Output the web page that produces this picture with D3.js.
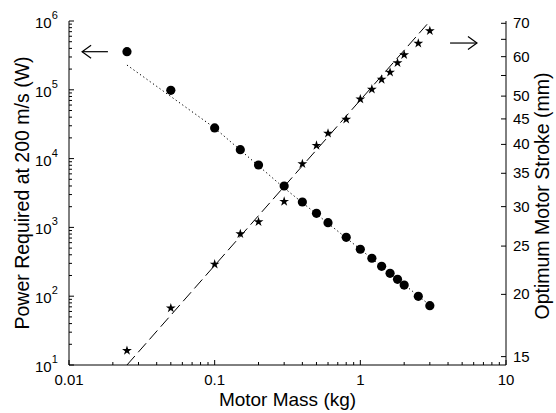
<!DOCTYPE html>
<html><head><meta charset="utf-8">
<script src="https://cdn.jsdelivr.net/npm/d3@7"></script>
<style>body{margin:0;background:#fff} svg text{font-family:"Liberation Sans",Arial,Helvetica,sans-serif;fill:#000}</style>
</head><body><svg id="c" width="556" height="413"></svg>
<script>
// ---- data ----
const mass   = [0.025, 0.05, 0.1, 0.15, 0.2, 0.3, 0.4, 0.5, 0.6, 0.8, 1.0, 1.2, 1.4, 1.6, 1.8, 2.0, 2.5, 3.0];
const power  = [358000, 98400, 27900, 13500, 8070, 4000, 2340, 1600, 1170, 718, 481, 356, 272, 215, 176, 145, 99.7, 72.8];
const stroke = [15.42, 18.77, 22.99, 26.46, 27.97, 30.72, 36.56, 39.8, 42.1, 44.9, 49.3, 51.6, 54.0, 55.8, 58.3, 60.5, 63.8, 67.6];
const powerFitMass  = [0.025, 0.1, 0.3, 1, 3];
const powerFitValue = [229000, 27900, 3740, 480, 74];
const strokeFitMass  = [0.025, 3];
const strokeFitValue = [14.43, 70.7];
const xTicks = [0.01, 0.1, 1, 10];
const xTickLabels = ["0.01", "0.1", "1", "10"];
const yLeftExponents = [1, 2, 3, 4, 5, 6];
const yRightTicks  = [15, 20, 25, 30, 35, 40, 45, 50, 55, 60, 65, 70];
const yRightLabels = ["15", "20", "25", "30", "35", "40", "45", "50", "", "60", "", "70"];
const xTitle = "Motor Mass (kg)";
const yLeftTitle = "Power Required at 200 m/s (W)";
const yRightTitle = "Optimum Motor Stroke (mm)";

// ---- layout ----
const W = 556, H = 413;
const m = {top: 21, left: 69, right: 50, bottom: 48};
const iw = W - m.left - m.right, ih = H - m.top - m.bottom;
const svg = d3.select("#c");
const g = svg.append("g").attr("transform", `translate(${m.left},${m.top})`);

const x = d3.scaleLog().domain([0.01, 10]).range([0, iw]);
const yL = d3.scaleLog().domain([10, 1e6]).range([ih, 0]);
const yR = d3.scaleLog().domain([14.43, 70.75]).range([ih, 0]);

// ---- axes lines ----
const ax = g.append("g").attr("stroke", "#000").attr("stroke-width", 1).attr("fill", "none");
ax.append("line").attr("x1", 0).attr("x2", 0).attr("y1", 0).attr("y2", ih);
ax.append("line").attr("x1", iw).attr("x2", iw).attr("y1", 0).attr("y2", ih);
ax.append("line").attr("x1", 0).attr("x2", iw).attr("y1", ih).attr("y2", ih);

// bottom ticks
const xMinor = [];
for (let d = 0.01; d < 10; d *= 10) for (let k = 2; k <= 9; k++) xMinor.push(+(d * k).toPrecision(3));
ax.selectAll(".xmaj").data(xTicks).enter().append("line")
  .attr("x1", d => x(d)).attr("x2", d => x(d)).attr("y1", ih).attr("y2", ih - 5);
ax.selectAll(".xmin").data(xMinor).enter().append("line")
  .attr("x1", d => x(d)).attr("x2", d => x(d)).attr("y1", ih).attr("y2", ih - 3);
g.selectAll(".xl").data(xTicks).enter().append("text")
  .attr("x", d => x(d)).attr("y", ih + 20).attr("text-anchor", "middle")
  .attr("font-size", 15).text((d, i) => xTickLabels[i]);

// left ticks
const yMinor = [];
for (let d = 10; d < 1e6; d *= 10) for (let k = 2; k <= 9; k++) yMinor.push(d * k);
ax.selectAll(".ymaj").data(yLeftExponents).enter().append("line")
  .attr("x1", 0).attr("x2", 5).attr("y1", d => yL(Math.pow(10, d))).attr("y2", d => yL(Math.pow(10, d)));
ax.selectAll(".ymin").data(yMinor).enter().append("line")
  .attr("x1", 0).attr("x2", 3).attr("y1", d => yL(d)).attr("y2", d => yL(d));
const yl = g.selectAll(".yl").data(yLeftExponents).enter().append("text")
  .attr("x", -34).attr("y", d => yL(Math.pow(10, d)) + 7).attr("text-anchor", "start").attr("font-size", 15);
yl.append("tspan").text("10");
yl.append("tspan").attr("font-size", 11).attr("dy", -9).text(d => d);

// right ticks
ax.selectAll(".rt").data(yRightTicks).enter().append("line")
  .attr("x1", iw).attr("x2", iw - 5).attr("y1", d => yR(d)).attr("y2", d => yR(d));
g.selectAll(".rl").data(yRightTicks).enter().append("text")
  .attr("x", iw + 7).attr("y", d => yR(d) + 5).attr("font-size", 15)
  .text((d, i) => yRightLabels[i]);

// titles
svg.append("text").attr("x", m.left + iw / 2).attr("y", 406).attr("text-anchor", "middle")
  .attr("font-size", 19).text(xTitle);
svg.append("text").attr("transform", `translate(29,${m.top + ih / 2}) rotate(-90)`)
  .attr("text-anchor", "middle").attr("font-size", 19.5).text(yLeftTitle);
svg.append("text").attr("transform", `translate(549,${m.top + ih / 2 + 3}) rotate(-90)`)
  .attr("text-anchor", "middle").attr("font-size", 19.5).text(yRightTitle);

// ---- fit lines ----
const fitP = powerFitMass.map((d, i) => [x(d), yL(powerFitValue[i])]);
g.append("path").attr("d", d3.line()(fitP)).attr("fill", "none").attr("stroke", "#000")
  .attr("stroke-width", 1).attr("stroke-dasharray", "1.3,2.7");
const fitS = strokeFitMass.map((d, i) => [x(d), yR(strokeFitValue[i])]);
g.append("path").attr("d", d3.line()(fitS)).attr("fill", "none").attr("stroke", "#000")
  .attr("stroke-width", 1).attr("stroke-dasharray", "12,5");

// ---- markers ----
g.selectAll(".pt").data(mass).enter().append("circle")
  .attr("cx", d => x(d)).attr("cy", (d, i) => yL(power[i])).attr("r", 4.6).attr("fill", "#000");
const star = d3.symbol().type(d3.symbolStar).size(30);
g.selectAll(".st").data(mass).enter().append("path")
  .attr("d", star).attr("transform", (d, i) => `translate(${x(d)},${yR(stroke[i])})`).attr("fill", "#000");

// ---- arrows ----
function arrow(x1, x2, yy, dir) {
  const tip = dir < 0 ? x1 : x2;
  const a = g.append("g").attr("stroke", "#000").attr("stroke-width", 1.2).attr("fill", "none");
  a.append("line").attr("x1", x1).attr("x2", x2).attr("y1", yy).attr("y2", yy);
  a.append("path").attr("d", `M${tip - dir * 9},${yy - 6.5}L${tip},${yy}L${tip - dir * 9},${yy + 6.5}`);
}
arrow(x(0.0123), x(0.0185), yL(358000), -1);
arrow(x(4.13), x(6.32), yR(63.9), 1);
</script></body></html>
